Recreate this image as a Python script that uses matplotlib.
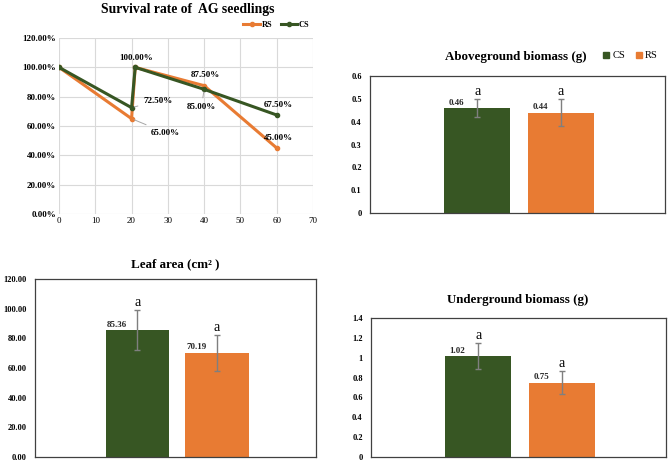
import matplotlib.pyplot as plt
import matplotlib.patches as mpatches
import numpy as np

plt.rcParams['font.family'] = ['Liberation Serif', 'DejaVu Serif']

# survival data
days_rs = [0, 20, 21, 40, 60]
rs_rate = [1.00, 0.65, 1.00, 0.875, 0.45]
days_cs = [0, 20, 21, 40, 60]
cs_rate = [1.00, 0.725, 1.00, 0.85, 0.675]

groups = ['CS', 'RS']
above_mean = [0.46, 0.44]
above_err = [0.04, 0.06]
leaf_mean = [85.36, 70.19]
leaf_err = [13.5, 12.0]
under_mean = [1.02, 0.75]
under_err = [0.13, 0.12]
sig = ['a', 'a']

green = '#375623'
orange = '#E87B33'
err_c = '#7f7f7f'

fig = plt.figure(figsize=(6.68, 4.62), dpi=100)
W, H = 668, 462


def px_axes(l, t, r, b):
    return fig.add_axes([l / W, 1 - b / H, (r - l) / W, (b - t) / H])


# ---- survival line chart ----
ax = px_axes(59, 38, 313, 214)
ax.plot(days_rs, rs_rate, color=orange, lw=2.2, marker='o', ms=3, label='RS', zorder=3)
ax.plot(days_cs, cs_rate, color=green, lw=2.2, marker='o', ms=3, label='CS', zorder=3)
ax.set_xlim(0, 70)
ax.set_ylim(0, 1.2)
ax.set_xticks(np.arange(0, 71, 10))
ax.set_yticks(np.arange(0, 1.21, 0.2))
ax.set_yticklabels([f'{v*100:.2f}%' for v in np.arange(0, 1.21, 0.2)], fontweight='bold')
ax.tick_params(labelsize=6.5, length=0, pad=2)
ax.grid(True, color='#d9d9d9', lw=0.8)
for s in ax.spines.values():
    s.set_visible(False)
ax.set_axisbelow(True)

lab_kw = dict(textcoords='offset points', fontsize=6.5, fontweight='bold', ha='center', va='center')
arr = dict(arrowstyle='-', color='#a6a6a6', lw=0.7)
ax.annotate('100.00%', (days_rs[2], rs_rate[2]), xytext=(1, 7), **lab_kw)
ax.annotate('72.50%', (days_cs[1], cs_rate[1]), xytext=(19, 5), arrowprops=arr, **lab_kw)
ax.annotate('65.00%', (days_rs[1], rs_rate[1]), xytext=(24, -10), arrowprops=arr, **lab_kw)
ax.annotate('87.50%', (days_rs[3], rs_rate[3]), xytext=(1, 8), **lab_kw)
ax.annotate('85.00%', (days_cs[3], cs_rate[3]), xytext=(-2, -13), arrowprops=arr, **lab_kw)
ax.annotate('67.50%', (days_cs[4], cs_rate[4]), xytext=(1, 7), **lab_kw)
ax.annotate('45.00%', (days_rs[4], rs_rate[4]), xytext=(1, 7), **lab_kw)
ax.legend(loc='center right', bbox_to_anchor=(1.0, 1.075), ncol=2, frameon=False,
          prop={'size': 6, 'weight': 'bold'}, handlelength=2, columnspacing=1.0,
          handletextpad=0.2, borderaxespad=0)
fig.text(188 / W, 1 - 9 / H, 'Survival rate of  AG seedlings', ha='center', va='center',
         fontsize=9.8, fontweight='bold')

# ---- bar charts ----
x = np.arange(len(groups))
colors = [green, orange]


def bar_panel(box, means, errs, ymax, ystep, fmt, lab_fmt, title, title_xy):
    a = px_axes(*box)
    a.bar(x, means, width=0.79, color=colors, zorder=2)
    a.errorbar(x, means, yerr=errs, fmt='none', ecolor=err_c, elinewidth=1, capsize=2.5,
               capthick=1, zorder=3)
    a.set_xlim(-1.28, 2.24)
    a.set_ylim(0, ymax)
    ticks = np.arange(0, ymax + ystep / 2, ystep)
    a.set_yticks(ticks)
    a.set_yticklabels([fmt(t) for t in ticks], fontweight='bold')
    a.set_xticks([])
    a.tick_params(labelsize=6, length=0, pad=6)
    for s in a.spines.values():
        s.set_color('#404040')
        s.set_linewidth(0.9)
    for i in range(len(x)):
        a.text(x[i] - 0.25, means[i] + ymax * 0.008, lab_fmt.format(means[i]), ha='center',
               va='bottom', fontsize=6.5, fontweight='bold', color='#262626')
        a.text(x[i], means[i] + errs[i] + ymax * 0.005, sig[i], ha='center', va='bottom',
               fontsize=10)
    fig.text(title_xy[0] / W, 1 - title_xy[1] / H, title, ha='center', va='center',
             fontsize=9.4, fontweight='bold')
    return a


ab = bar_panel((370, 76, 665, 213), above_mean, above_err, 0.6, 0.1,
               lambda t: f'{t:.1f}'.rstrip('0').rstrip('.') if t else '0', '{:.2f}',
               'Aboveground biomass (g)', (516, 57))
handles = [mpatches.Patch(color=c, label=g) for g, c in zip(groups, colors)]
ab.legend(handles=handles, loc='center right', bbox_to_anchor=(0.99, 1.146), ncol=2,
          frameon=False, prop={'size': 7.5}, handlelength=0.6, handleheight=0.6,
          handletextpad=0.3, columnspacing=1.0, borderaxespad=0)

bar_panel((35, 279, 316, 457), leaf_mean, leaf_err, 120, 20, lambda t: f'{t:.2f}', '{:.2f}',
          'Leaf area (cm² )', (175, 264))

bar_panel((371, 318, 666, 457), under_mean, under_err, 1.4, 0.2,
          lambda t: f'{t:.1f}'.rstrip('0').rstrip('.') if t else '0', '{:.2f}',
          'Underground biomass (g)', (518, 300))

fig.savefig('out.png', dpi=100)
